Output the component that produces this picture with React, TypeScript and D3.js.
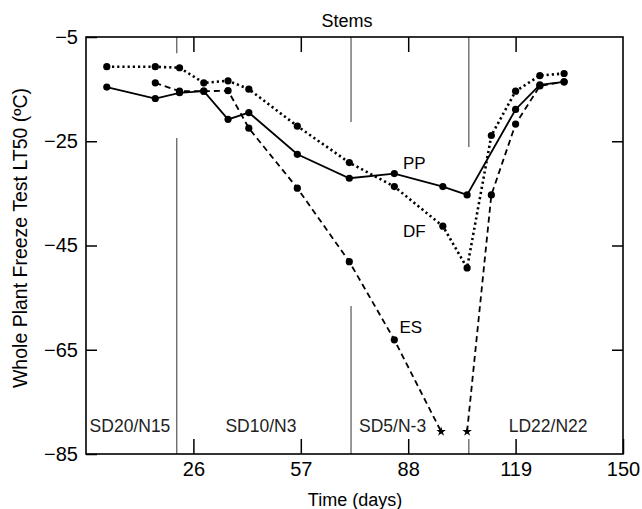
import React, { useRef, useEffect } from "react";
import * as d3 from "d3";

// days after start of acclimation
const ppDays = [1, 15, 22, 29, 36, 42, 56, 71, 84, 98, 105, 119, 126, 133];
const ppValues = [-14.6, -16.8, -15.7, -15.4, -20.8, -19.5, -27.5, -32.1, -31.2, -33.7, -35.3, -18.9, -14.2, -13.6];

const dfDays = [1, 15, 22, 29, 36, 42, 56, 71, 84, 98, 105, 112, 119, 126, 133];
const dfValues = [-10.7, -10.7, -10.9, -13.8, -13.4, -15.0, -22.1, -29.1, -33.7, -41.3, -49.3, -23.9, -15.4, -12.4, -12.0];

const esDays = [15, 22, 29, 36, 42, 56, 71, 84, 97.5, 105, 112, 119, 126, 133];
const esValues = [-13.8, -15.4, -15.4, -15.3, -22.5, -34.0, -48.1, -63.1, -80.7, -80.7, -35.3, -21.7, -14.4, -13.6];
// points shown as stars instead of dots (no survival); the curve breaks between them
const esStarDays = [97.5, 105];

const xTicks = [26, 57, 88, 119, 150];
const yTicks = [-5, -25, -45, -65, -85];

// photoperiod / temperature regimes
const regimeLabels = ["SD20/N15", "SD10/N3", "SD5/N-3", "LD22/N22"];
const regimeLabelDays = [7.7, 45.5, 83.5, 128.4];

// change-over lines, drawn in pieces so they do not cross the curves
const dividerDays = [21.2, 21.2, 71.5, 71.5, 105.5, 105.5];
const dividerFrom = [-5, -24.4, -5, -56.6, -5, -82.1];
const dividerTo = [-8.1, -85, -21.3, -85, -26.1, -85];

const seriesNames = ["PP", "DF", "ES"];
const seriesLabelDays = [86.5, 86.5, 85.5];
const seriesLabelValues = [-30.4, -43.3, -61.7];

const FONT = "'Liberation Sans', Arial, Helvetica, sans-serif";

const App = () => {
  const svgRef = useRef<SVGSVGElement>(null);

  useEffect(() => {
    document.body.style.margin = "0";
    const w = 642;
    const h = 509;
    const margin = { top: 37, right: 19, bottom: 55, left: 86 };
    const svg = d3.select(svgRef.current).attr("width", w).attr("height", h).style("background", "#fff");
    svg.selectAll("*").remove();

    const x = d3.scaleLinear().domain([-5, 150]).range([margin.left, w - margin.right]);
    const y = d3.scaleLinear().domain([-85, -5]).range([h - margin.bottom, margin.top]);

    // dividers
    svg
      .selectAll(".divider")
      .data(dividerDays)
      .enter()
      .append("line")
      .attr("x1", (d) => x(d))
      .attr("x2", (d) => x(d))
      .attr("y1", (d, i) => y(dividerFrom[i]))
      .attr("y2", (d, i) => y(dividerTo[i]))
      .attr("stroke", "#555")
      .attr("stroke-width", 1.2);

    // axes with inward ticks
    const bottom = svg
      .append("g")
      .attr("transform", `translate(0,${h - margin.bottom})`)
      .call(d3.axisBottom(x).tickValues(xTicks).tickSize(-15).tickSizeOuter(0).tickPadding(8));
    const left = svg
      .append("g")
      .attr("transform", `translate(${margin.left},0)`)
      .call(d3.axisLeft(y).tickValues(yTicks).tickSize(-11).tickSizeOuter(0).tickPadding(8));
    const top = svg
      .append("g")
      .attr("transform", `translate(0,${margin.top})`)
      .call(d3.axisTop(x).tickValues(xTicks.slice(0, -1)).tickSize(-15).tickSizeOuter(0).tickFormat(() => ""));
    const right = svg
      .append("g")
      .attr("transform", `translate(${w - margin.right},0)`)
      .call(d3.axisRight(y).tickValues(yTicks.slice(1, -1)).tickSize(-11).tickSizeOuter(0).tickFormat(() => ""));

    [bottom, left, top, right].forEach((g) => {
      g.select(".domain").remove();
      g.selectAll(".tick line").attr("stroke", "#000").attr("stroke-width", 1.5);
      g.selectAll(".tick text").attr("font-family", FONT).attr("font-size", 20).attr("fill", "#000");
    });

    svg
      .append("rect")
      .attr("x", margin.left)
      .attr("y", margin.top)
      .attr("width", w - margin.left - margin.right)
      .attr("height", h - margin.top - margin.bottom)
      .attr("fill", "none")
      .attr("stroke", "#000")
      .attr("stroke-width", 1.6);

    const line = d3
      .line<[number, number]>()
      .x((d) => x(d[0]))
      .y((d) => y(d[1]));

    const series = [
      { days: ppDays, values: ppValues, dash: null, width: 1.8 },
      { days: dfDays, values: dfValues, dash: "2.2,3", width: 2.6 },
      { days: esDays, values: esValues, dash: "6,4", width: 1.8 },
    ];

    series.forEach((s, si) => {
      const pts = s.days.map((d, i) => [d, s.values[i]] as [number, number]);
      // split the curve where two star points follow each other
      const pieces: [number, number][][] = [[]];
      pts.forEach((p, i) => {
        if (i > 0 && esStarDays.includes(p[0]) && esStarDays.includes(pts[i - 1][0]) && si === 2) pieces.push([]);
        pieces[pieces.length - 1].push(p);
      });
      pieces.forEach((piece) => {
        svg
          .append("path")
          .datum(piece)
          .attr("d", line)
          .attr("fill", "none")
          .attr("stroke", "#000")
          .attr("stroke-width", s.width)
          .attr("stroke-dasharray", s.dash);
      });

      const dots = si === 2 ? pts.filter((p) => !esStarDays.includes(p[0])) : pts;
      svg
        .append("g")
        .selectAll("circle")
        .data(dots)
        .enter()
        .append("circle")
        .attr("cx", (d) => x(d[0]))
        .attr("cy", (d) => y(d[1]))
        .attr("r", 3.6)
        .attr("fill", "#000");

      if (si === 2) {
        svg
          .append("g")
          .selectAll("path")
          .data(pts.filter((p) => esStarDays.includes(p[0])))
          .enter()
          .append("path")
          .attr("transform", (d) => `translate(${x(d[0])},${y(d[1])})`)
          .attr("d", d3.symbol().type(d3.symbolStar).size(28))
          .attr("fill", "#000");
      }
    });

    // series labels
    svg
      .selectAll(".slabel")
      .data(seriesNames)
      .enter()
      .append("text")
      .attr("x", (d, i) => x(seriesLabelDays[i]))
      .attr("y", (d, i) => y(seriesLabelValues[i]))
      .attr("font-family", FONT)
      .attr("font-size", 17)
      .text((d) => d);

    // regime labels
    svg
      .selectAll(".rlabel")
      .data(regimeLabels)
      .enter()
      .append("text")
      .attr("x", (d, i) => x(regimeLabelDays[i]))
      .attr("y", 432)
      .attr("text-anchor", "middle")
      .attr("font-family", FONT)
      .attr("font-size", 17.5)
      .attr("fill", "#222")
      .text((d) => d);

    svg
      .append("text")
      .attr("x", 347)
      .attr("y", 27)
      .attr("text-anchor", "middle")
      .attr("font-family", FONT)
      .attr("font-size", 18)
      .text("Stems");

    svg
      .append("text")
      .attr("x", 355)
      .attr("y", 506)
      .attr("text-anchor", "middle")
      .attr("font-family", FONT)
      .attr("font-size", 18)
      .text("Time (days)");

    svg
      .append("text")
      .attr("transform", "translate(27,238) rotate(-90)")
      .attr("text-anchor", "middle")
      .attr("font-family", FONT)
      .attr("font-size", 19.5)
      .text("Whole Plant Freeze Test LT50 (ºC)");
  }, []);

  return <svg ref={svgRef}></svg>;
};

export default App;
